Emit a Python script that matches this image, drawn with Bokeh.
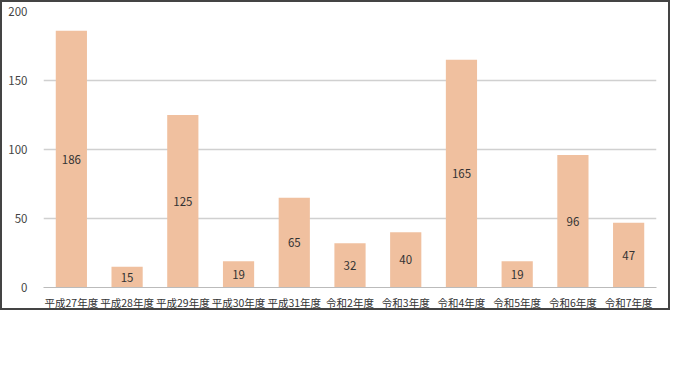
from bokeh.plotting import figure
from bokeh.models import ColumnDataSource
from bokeh.core.properties import value
from bokeh.embed import file_html
from bokeh.resources import INLINE

categories = ["平成27年度", "平成28年度", "平成29年度", "平成30年度", "平成31年度",
              "令和2年度", "令和3年度", "令和4年度", "令和5年度", "令和6年度", "令和7年度"]
counts = [186, 15, 125, 19, 65, 32, 40, 165, 19, 96, 47]
y_ticks = [0, 50, 100, 150, 200]

src = ColumnDataSource(dict(
    cat=categories,
    val=counts,
    mid=[v / 2 for v in counts],
    lab=[str(v) for v in counts],
))

p = figure(x_range=categories, y_range=(0, 200), width=670, height=310,
           output_backend="svg", toolbar_location=None,
           min_border_left=41, min_border_right=16, min_border_top=9, min_border_bottom=17)
p.styles = {"border": "2px solid #444", "box-sizing": "border-box"}
p.x_range.range_padding = 0
p.outline_line_color = None

p.vbar(x="cat", top="val", width=0.56, source=src, fill_color="#F0C09F", line_color=None)
p.text(x="cat", y="mid", text="lab", source=src, text_align="center", text_baseline="middle",
       text_font=value("Noto Sans CJK JP"), text_font_size="11.5px", text_color="#333333")

p.yaxis.ticker = y_ticks
p.yaxis.axis_line_color = None
p.yaxis.major_tick_line_color = None
p.yaxis.minor_tick_line_color = None
p.yaxis.major_label_text_font = "Noto Sans CJK JP"
p.yaxis.major_label_text_font_size = "11.5px"
p.yaxis.major_label_text_color = "#444444"
p.yaxis.major_label_standoff = 10

p.xaxis.axis_line_color = "#BBBBBB"
p.xaxis.major_tick_line_color = None
p.xaxis.minor_tick_line_color = None
p.xaxis.major_label_text_font = "Noto Sans CJK JP"
p.xaxis.major_label_text_font_size = "10.5px"
p.xaxis.major_label_text_color = "#333333"
p.xaxis.major_label_standoff = 1

p.xgrid.grid_line_color = None
p.ygrid.grid_line_color = "#D0D0D0"
p.ygrid.grid_line_width = 1.5

open("out.html", "w").write(file_html(p, INLINE))
